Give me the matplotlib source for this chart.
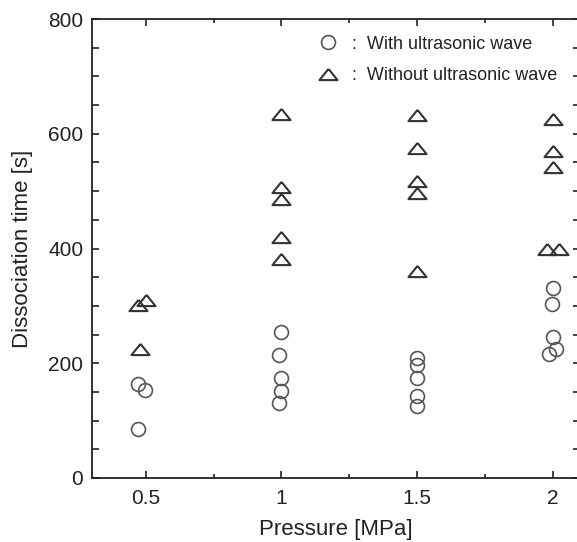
import matplotlib
matplotlib.use("Agg")
import matplotlib.pyplot as plt
from matplotlib.lines import Line2D
from matplotlib.ticker import MultipleLocator

plt.rcParams['font.family'] = ['Liberation Sans', 'DejaVu Sans']

# With ultrasonic wave (circles)
with_x = [0.472, 0.496, 0.472,
          1.0, 0.99, 1.0, 1.0, 0.99,
          1.5, 1.5, 1.5, 1.5, 1.5,
          2.0, 1.998, 2.0, 1.988, 2.013]
with_y = [163, 154, 85,
          254, 215, 175, 151, 131,
          210, 197, 175, 143, 125,
          332, 303, 246, 216, 224]

# Without ultrasonic wave (triangles)
without_x = [0.47, 0.50, 0.478,
             1.0, 1.0, 1.0, 1.0, 1.0,
             1.5, 1.5, 1.5, 1.5, 1.5,
             2.0, 2.0, 2.0, 1.977, 2.023]
without_y = [302, 311, 224,
             635, 507, 486, 420, 381,
             633, 575, 517, 497, 360,
             625, 570, 542, 400, 400]

xticks = [0.5, 1, 1.5, 2]
xticklabels = ['0.5', '1', '1.5', '2']
yticks = [0, 200, 400, 600, 800]

circ_col = '#555555'
tri_col = '#333333'
text_col = '#222222'

tri_marker = [(0, 0.62), (-1, -0.62), (1, -0.62), (0, 0.62)]

fig = plt.figure(figsize=(5.77, 5.42), dpi=100)
ax = fig.add_axes([0.1586, 0.1181, 1.005 - 0.1586, 0.9649 - 0.1181])

ax.plot(with_x, with_y, linestyle='none', marker='o', markersize=10,
        markerfacecolor='none', markeredgecolor=circ_col, markeredgewidth=1.2)
ax.plot(without_x, without_y, linestyle='none', marker=tri_marker, markersize=13,
        markerfacecolor='none', markeredgecolor=tri_col, markeredgewidth=1.5)

ax.set_xlim(0.3, 2.1)
ax.set_ylim(0, 800)
ax.set_xticks(xticks)
ax.set_xticklabels(xticklabels)
ax.set_yticks(yticks)
ax.xaxis.set_minor_locator(MultipleLocator(0.25))
ax.yaxis.set_minor_locator(MultipleLocator(50))

ax.tick_params(axis='both', which='both', direction='in', top=True, right=True,
               colors=text_col, labelsize=15, width=1.2)
ax.tick_params(axis='x', which='major', length=5, pad=8)
ax.tick_params(axis='x', which='minor', length=3)
ax.tick_params(axis='y', which='major', length=5, pad=6)
ax.tick_params(axis='y', which='minor', length=5)
for s in ax.spines.values():
    s.set_linewidth(1.3)
    s.set_color(text_col)

ax.set_xlabel('Pressure [MPa]', fontsize=16, color=text_col, labelpad=8)
ax.set_ylabel('Dissociation time [s]', fontsize=16, color=text_col, labelpad=11)

handles = [
    Line2D([], [], linestyle='none', marker='o', markersize=10,
           markerfacecolor='none', markeredgecolor=circ_col, markeredgewidth=1.2),
    Line2D([], [], linestyle='none', marker=tri_marker, markersize=13,
           markerfacecolor='none', markeredgecolor=tri_col, markeredgewidth=1.5),
]
labels = [':  With ultrasonic wave', ':  Without ultrasonic wave']
leg = fig.legend(handles, labels, loc='upper left', bbox_to_anchor=(0.553, 0.934),
                 frameon=False, fontsize=13, handlelength=1.0, handletextpad=0.8,
                 labelspacing=0.8, borderpad=0, borderaxespad=0)
for t in leg.get_texts():
    t.set_color(text_col)

fig.savefig('out.png', dpi=100)
